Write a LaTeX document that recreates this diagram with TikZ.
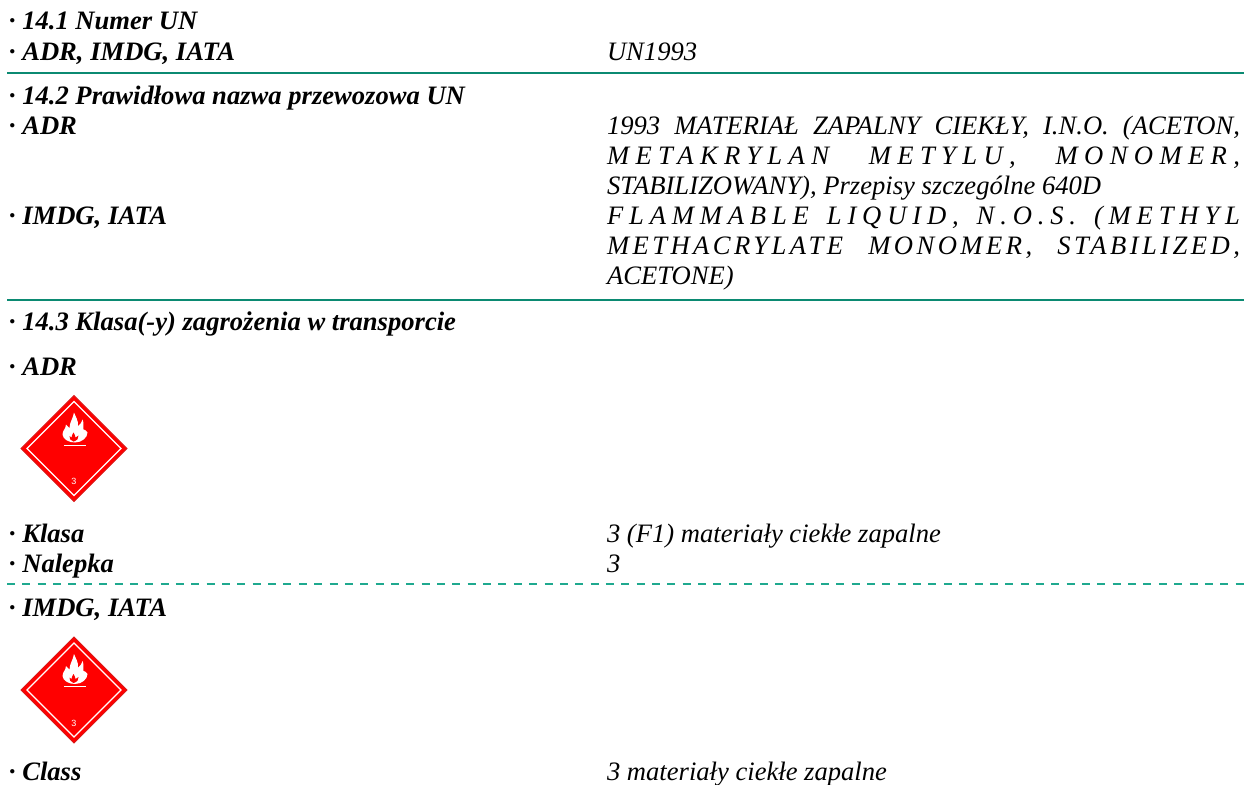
\documentclass[tikz,border=0pt]{standalone}
\usepackage{fontspec}
\setmainfont{Liberation Serif}
\newfontfamily\labelsans{Liberation Sans}
\definecolor{rulecol}{HTML}{0B8A72}
\definecolor{dashcol}{HTML}{1FA98F}
\definecolor{hazred}{HTML}{FF0000}
\definecolor{hazedge}{HTML}{D81818}
\newcommand{\stext}{\fontsize{26.6}{30}\selectfont\itshape}
\newcommand{\btext}{\fontsize{26.6}{30}\selectfont\bfseries\itshape}
\tikzset{
  x=1pt,y=-1pt,
  lab/.style={anchor=base west,inner sep=0pt,outer sep=0pt,font=\btext},
  val/.style={anchor=base west,inner sep=0pt,outer sep=0pt,font=\stext},
  solidrule/.style={draw=rulecol,line width=2pt},
  dashrule/.style={draw=dashcol,line width=1.4pt,dash pattern=on 8pt off 7.357pt},
  pics/hazard/.style={code={
    \fill[hazred,draw=hazedge,line width=1pt] (0,-53) -- (53,0) -- (0,53) -- (-53,0) -- cycle;
    \draw[white,line width=1.2pt] (0,-47) -- (47,0) -- (0,47) -- (-47,0) -- cycle;
    \fill[white] (1,-6) .. controls (-5,-6) and (-11,-9) .. (-11.5,-14)
      .. controls (-11.5,-18) and (-8,-20) .. (-8,-24)
      .. controls (-6.5,-23) and (-5.5,-22) .. (-4.5,-20.5)
      .. controls (-4.5,-26) and (-1,-30) .. (0,-36)
      .. controls (1.5,-32) and (4.5,-28) .. (4,-22.5)
      .. controls (6,-24) and (8,-26) .. (8.7,-29)
      .. controls (10,-25) and (9,-21) .. (9.5,-19)
      .. controls (11,-19) and (12,-18) .. (13.5,-16)
      .. controls (13.5,-11) and (8,-6) .. (1,-6) -- cycle;
    \fill[hazred] (-0.5,-7) .. controls (-3.5,-8) and (-5,-10) .. (-4.5,-12.5)
      .. controls (-3.5,-12) and (-3,-12) .. (-2.5,-11)
      .. controls (-2.5,-13) and (-1.5,-14) .. (-0.5,-16)
      .. controls (0.5,-14) and (1.5,-13) .. (1.5,-11)
      .. controls (2.5,-12) and (3,-12) .. (4.5,-13)
      .. controls (5,-10) and (3,-8) .. (-0.5,-7) -- cycle;
    \draw[white,line width=0.7pt] (-10,-3.5) -- (12,-3.5);
    \node[white,inner sep=0pt,font=\labelsans\fontsize{9}{9}\selectfont] (\pgfkeysvalueof{/tikz/hazname}) at (0,33) {3};
  }},
  hazname/.initial=hz,
}
\begin{document}
\begin{tikzpicture}
\useasboundingbox (0,0) rectangle (1244,784);
\fill[white] (0,0) rectangle (1244,784);
\coordinate (ra) at (7,73);  \coordinate (rb) at (1244,73);
\coordinate (rc) at (7,300); \coordinate (rd) at (1244,300);
\coordinate (re) at (7,584); \coordinate (rf) at (1244,584);
\path[solidrule] (ra) -- (rb);
\path[solidrule] (rc) -- (rd);
\path[dashrule] (re) -- (rf);

\node[lab] (l1) at (9,30) {· 14.1 Numer UN};
\node[lab] (l2) at (9,60) {· ADR, IMDG, IATA};
\node[val] (v2) at (607,60) {UN1993};

\node[lab] (l3) at (9,104.5) {· 14.2 Prawidłowa nazwa przewozowa UN};
\node[lab] (l4) at (9,134) {· ADR};
\node[val] (v4a) at (607,134) {\hbox to 633pt{1993 MATERIAŁ ZAPALNY CIEKŁY, I.N.O. (ACETON,}};
\node[val] (v4b) at (607,164) {\hbox to 633pt{\addfontfeature{LetterSpace=24}METAKRYLAN\hfill METYLU,\hfill MONOMER,}};
\node[val] (v4c) at (607,194) {STABILIZOWANY), Przepisy szczególne 640D};
\node[lab] (l5) at (9,224) {· IMDG, IATA};
\node[val] (v5a) at (607,224) {\hbox to 633pt{\addfontfeature{LetterSpace=22}FLAMMABLE\hfill LIQUID,\hfill N.O.S.\hfill (METHYL}};
\node[val] (v5b) at (607,254) {\hbox to 633pt{\addfontfeature{LetterSpace=13}METHACRYLATE\hfill MONOMER,\hfill STABILIZED,}};
\node[val] (v5c) at (607,284) {ACETONE)};

\node[lab] (l6) at (9,330) {· 14.3 Klasa(-y) zagrożenia w transporcie};
\node[lab] (l7) at (9,375) {· ADR};
\pic[hazname=hza] at (74,448.5) {hazard};
\node[lab] (l8) at (9,542) {· Klasa};
\node[val] (v8) at (607,542) {3 (F1) materiały ciekłe zapalne};
\node[lab] (l9) at (9,572) {· Nalepka};
\node[val] (v9) at (607,572) {3};
\node[lab] (l10) at (9,616) {· IMDG, IATA};
\pic[hazname=hzb] at (74,690) {hazard};
\node[lab] (l11) at (9,780.5) {· Class};
\node[val] (v11) at (607,780.5) {3 materiały ciekłe zapalne};
\end{tikzpicture}
\end{document}
